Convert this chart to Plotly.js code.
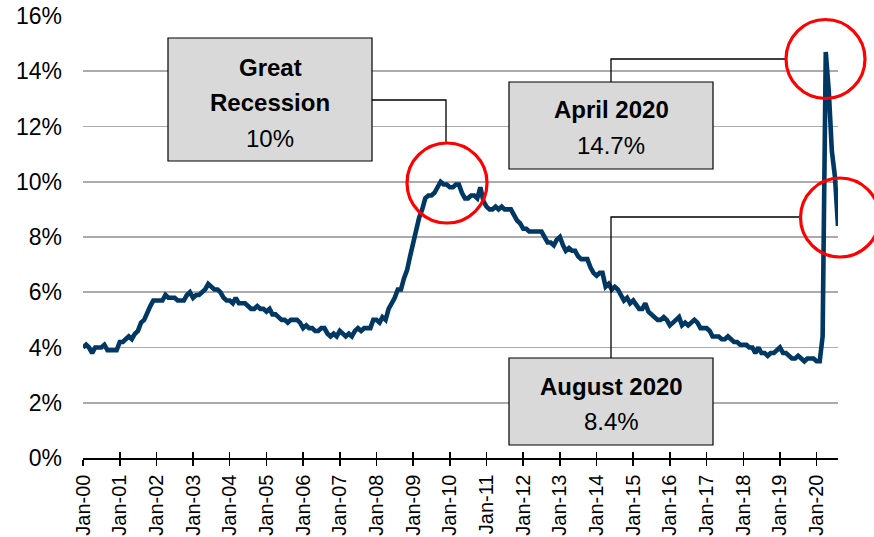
<!DOCTYPE html>
<html>
<head>
<meta charset="utf-8">
<script src="https://cdn.plot.ly/plotly-3.0.1.min.js"></script>
<style>html,body{margin:0;padding:0;background:#fff;}#chart{width:874px;height:537px;}</style>
</head>
<body>
<div id="chart"></div>
<script>
// US unemployment rate (%), monthly, Jan 2000 – Aug 2020
const startYear = 2000;
const unemploymentRate = [
  4.0,4.1,4.0,3.8,4.0,4.0,4.0,4.1,3.9,3.9,3.9,3.9,
  4.2,4.2,4.3,4.4,4.3,4.5,4.6,4.9,5.0,5.3,5.5,5.7,
  5.7,5.7,5.7,5.9,5.8,5.8,5.8,5.7,5.7,5.7,5.9,6.0,
  5.8,5.9,5.9,6.0,6.1,6.3,6.2,6.1,6.1,6.0,5.8,5.7,
  5.7,5.6,5.8,5.6,5.6,5.6,5.5,5.4,5.4,5.5,5.4,5.4,
  5.3,5.4,5.2,5.2,5.1,5.0,5.0,4.9,5.0,5.0,5.0,4.9,
  4.7,4.8,4.7,4.7,4.6,4.6,4.7,4.7,4.5,4.4,4.5,4.4,
  4.6,4.5,4.4,4.5,4.4,4.6,4.7,4.6,4.7,4.7,4.7,5.0,
  5.0,4.9,5.1,5.0,5.4,5.6,5.8,6.1,6.1,6.5,6.8,7.3,
  7.8,8.3,8.7,9.0,9.4,9.5,9.5,9.6,9.8,10.0,9.9,9.9,
  9.8,9.8,9.9,9.9,9.6,9.4,9.4,9.5,9.5,9.4,9.8,9.3,
  9.1,9.0,9.0,9.1,9.0,9.1,9.0,9.0,9.0,8.8,8.6,8.5,
  8.3,8.3,8.2,8.2,8.2,8.2,8.2,8.0,7.8,7.8,7.7,7.9,
  8.0,7.7,7.5,7.6,7.5,7.5,7.3,7.2,7.2,7.2,6.9,6.7,
  6.6,6.7,6.7,6.2,6.3,6.1,6.2,6.1,5.9,5.7,5.8,5.6,
  5.7,5.5,5.4,5.4,5.6,5.3,5.2,5.1,5.0,5.0,5.1,5.0,
  4.8,4.9,5.0,5.1,4.8,4.9,4.8,4.9,5.0,4.9,4.7,4.7,
  4.7,4.6,4.4,4.4,4.4,4.3,4.3,4.4,4.3,4.2,4.2,4.1,
  4.1,4.1,4.0,4.0,3.8,4.0,3.8,3.8,3.7,3.8,3.8,3.9,
  4.0,3.8,3.8,3.7,3.6,3.6,3.7,3.6,3.5,3.6,3.6,3.6,
  3.5,3.5,4.4,14.7,13.3,11.1,10.2,8.4
];
const tickYears = [2000,2001,2002,2003,2004,2005,2006,2007,2008,2009,2010,2011,2012,2013,2014,2015,2016,2017,2018,2019,2020];
const tickLabels = ['Jan-00','Jan-01','Jan-02','Jan-03','Jan-04','Jan-05','Jan-06','Jan-07','Jan-08','Jan-09','Jan-10','Jan-11','Jan-12','Jan-13','Jan-14','Jan-15','Jan-16','Jan-17','Jan-18','Jan-19','Jan-20'];
const yTicks = [0,2,4,6,8,10,12,14,16];
const yTickLabels = ['0%','2%','4%','6%','8%','10%','12%','14%','16%'];
const calloutTitles = [['Great','Recession'],['April 2020'],['August 2020']];
const calloutValues = ['10%','14.7%','8.4%'];

function pad(n){return (n<10?'0':'')+n;}
const dates = unemploymentRate.map((_, i) => (startYear + Math.floor(i/12)) + '-' + pad(i%12+1) + '-01');
const tickVals = tickYears.map(y => y + '-01-01');
const xRange = [dates[0], dates[dates.length-1]];

// layout geometry (pixels)
const W = 874, H = 537, L = 83, R = 36, T = 16, B = 79;
const PW = W - L - R, PH = H - T - B;
const px = v => (v - L) / PW;
const py = v => (T + PH - v) / PH;

const FONT = 'Liberation Sans, Arial, Helvetica, sans-serif';

const trace = {
  x: dates, y: unemploymentRate, type: 'scatter', mode: 'lines',
  line: {color: '#003763', width: 4.6, shape: 'linear'},
  hoverinfo: 'skip'
};

const shapes = [];
const annotations = [];
function box(x0, y0, x1, y1){
  shapes.push({type:'rect', xref:'paper', yref:'paper', x0:px(x0), x1:px(x1), y0:py(y1), y1:py(y0),
    fillcolor:'#d9d9d9', line:{color:'#000', width:1.2}, layer:'above'});
}
function conn(pts){
  let d = 'M ' + pts.map(p => px(p[0]) + ',' + py(p[1])).join(' L ');
  shapes.push({type:'path', xref:'paper', yref:'paper', path:d, line:{color:'#000', width:1.3}, layer:'above'});
}
function circle(cx, cy, r){
  shapes.push({type:'circle', xref:'paper', yref:'paper', x0:px(cx-r), x1:px(cx+r), y0:py(cy+r), y1:py(cy-r),
    line:{color:'#ff0000', width:3.2}, fillcolor:'rgba(0,0,0,0)', layer:'above'});
}
function label(text, cx, cy, bold){
  annotations.push({xref:'paper', yref:'paper', x:px(cx), y:py(cy), xanchor:'center', yanchor:'middle',
    text: bold ? '<b>'+text+'</b>' : text, showarrow:false, font:{family:FONT, size:24, color:'#000'}});
}

// Great Recession callout
conn([[372,100],[446,100],[446,143]]);
box(168,38,372,161);
label(calloutTitles[0][0], 270, 67, true);
label(calloutTitles[0][1], 270, 103, true);
label(calloutValues[0], 270, 138, false);
circle(447,183,40);

// April 2020 callout
conn([[611,82],[611,59],[786,59]]);
box(509,82,713,169);
label(calloutTitles[1][0], 611, 109, true);
label(calloutValues[1], 611, 146, false);
circle(825.5,59,39.5);

// August 2020 callout
conn([[611,358],[611,217],[801,217]]);
box(509,358,713,445);
label(calloutTitles[2][0], 611, 386, true);
label(calloutValues[2], 611, 421, false);
circle(840,217.5,39.5);

const layout = {
  width: W, height: H,
  margin: {l:L, r:R, t:T, b:B, pad:0},
  paper_bgcolor:'#fff', plot_bgcolor:'#fff',
  showlegend:false,
  font:{family:FONT, color:'#000'},
  xaxis: {
    type:'date', range:xRange, tickmode:'array', tickvals:tickVals, ticktext:tickLabels,
    tickangle:-90, tickfont:{family:FONT, size:20, color:'#000'},
    ticks:'outside', ticklen:6, tickwidth:1.5, tickcolor:'#000',
    showline:true, linecolor:'#000', linewidth:1.5, showgrid:false, zeroline:false,
    ticklabelstandoff:1, fixedrange:true
  },
  xaxis2: {
    type:'date', range:xRange, overlaying:'x', anchor:'y', side:'bottom',
    tickmode:'array', tickvals:tickVals, showticklabels:false,
    ticks:'inside', ticklen:6, tickwidth:1.5, tickcolor:'#000',
    showline:false, showgrid:false, zeroline:false, fixedrange:true
  },
  yaxis: {
    range:[0,16], tickmode:'array', tickvals:yTicks, ticktext:yTickLabels,
    tickfont:{family:FONT, size:23, color:'#000'},
    showgrid:true, gridcolor:'#ababab', gridwidth:1.8,
    showline:false, zeroline:false, ticks:'', ticklabelstandoff:20, fixedrange:true
  },
  shapes: shapes,
  annotations: annotations
};

const trace2 = {x:[xRange[0]], y:[0], xaxis:'x2', yaxis:'y', type:'scatter', mode:'markers',
  marker:{opacity:0}, hoverinfo:'skip'};

Plotly.newPlot('chart', [trace, trace2], layout, {staticPlot:true, displayModeBar:false});
</script>
</body>
</html>
